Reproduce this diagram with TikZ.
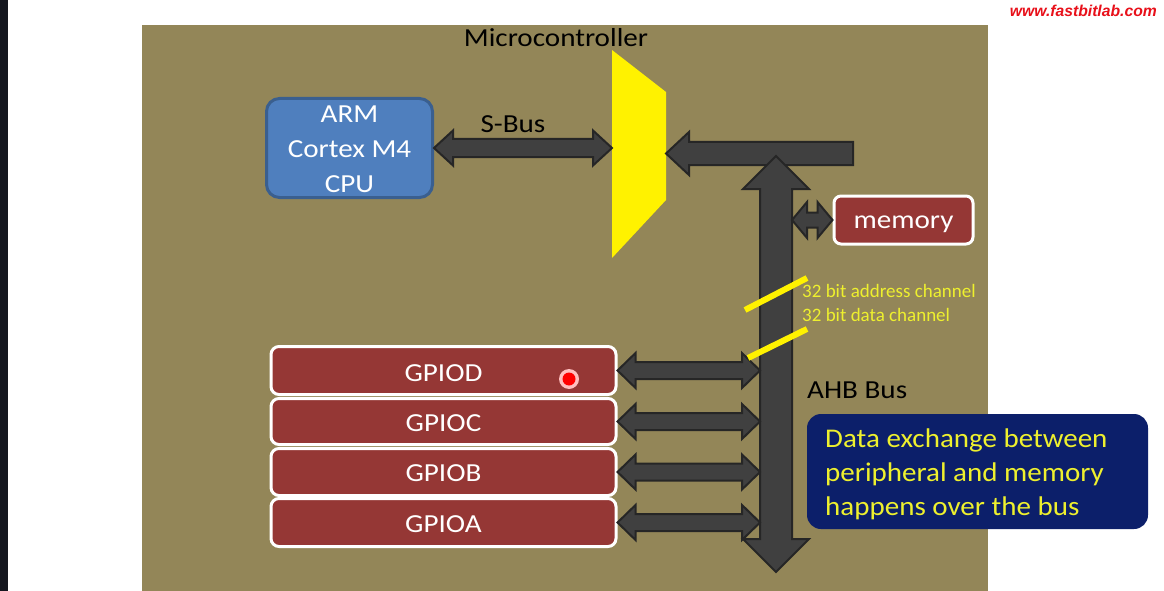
\documentclass[tikz,border=0pt]{standalone}
\usepackage{fontspec}
\setmainfont{Carlito}
\newfontfamily\widefont{Carlito}[FakeStretch=1.12]
\newfontfamily\notefont{Carlito}[FakeStretch=1.075]
\newfontfamily\urlfont{Liberation Sans}
\usetikzlibrary{calc}
\definecolor{olive}{HTML}{938658}
\definecolor{cpublue}{HTML}{4F7FBE}
\definecolor{cpuborder}{HTML}{3A5F8F}
\definecolor{memred}{HTML}{953735}
\definecolor{busgray}{HTML}{404040}
\definecolor{busedge}{HTML}{262626}
\definecolor{navy}{HTML}{0C1F6A}
\definecolor{txtyellow}{HTML}{EEF02E}
\definecolor{stripdark}{HTML}{15171F}
\definecolor{urlred}{HTML}{E8101A}
\tikzset{
  busarrow/.style={fill=busgray, draw=busedge, line width=2pt, line join=miter},
  cpubox/.style={draw=cpuborder, line width=3pt, fill=cpublue, rounded corners=13pt,
    minimum width=166pt, minimum height=99pt, inner sep=0pt, text=white, align=center,
    font=\widefont\fontsize{26}{35}\selectfont},
  redbox/.style={draw=white, line width=3pt, fill=memred, rounded corners=8pt,
    inner sep=0pt, text=white, text depth=0pt, font=\widefont\fontsize{26}{30}\selectfont},
  notebox/.style={fill=navy, rounded corners=14pt, inner sep=0pt,
    minimum width=341pt, minimum height=115pt},
  notetext/.style={inner sep=0pt, align=left, text=txtyellow,
    font=\notefont\fontsize{27}{34}\selectfont},
  label/.style={inner sep=0pt, font=\widefont\fontsize{26}{30}\selectfont},
  chanlabel/.style={inner sep=0pt, text=txtyellow, font=\fontsize{19}{23}\selectfont},
  chanmark/.style={draw=yellow, line width=6pt}
}
% horizontal double arrow: left tip, right tip, shaft half, head half, head length
\newcommand{\hdbl}[5]{%
  \draw[busarrow] let \p1=#1, \p2=#2 in
    (\x1,\y1) -- (\x1+#5,\y1+#4) -- (\x1+#5,\y1+#3) -- (\x2-#5,\y1+#3) -- (\x2-#5,\y1+#4)
    -- (\x2,\y1) -- (\x2-#5,\y1-#4) -- (\x2-#5,\y1-#3) -- (\x1+#5,\y1-#3) -- (\x1+#5,\y1-#4) -- cycle;}
% vertical double arrow: top tip, bottom tip, shaft half, head half, head length
\newcommand{\vdbl}[5]{%
  \draw[busarrow] let \p1=#1, \p2=#2 in
    (\x1,\y1) -- (\x1+#4,\y1-#5) -- (\x1+#3,\y1-#5) -- (\x1+#3,\y2+#5) -- (\x1+#4,\y2+#5)
    -- (\x1,\y2) -- (\x1-#4,\y2+#5) -- (\x1-#3,\y2+#5) -- (\x1-#3,\y1-#5) -- (\x1-#4,\y1-#5) -- cycle;}
\begin{document}
\begin{tikzpicture}[x=1pt,y=-1pt]
\path[use as bounding box] (0,0) rectangle (1164,591);
\fill[white] (0,0) rectangle (1164,591);
\fill[stripdark] (0,0) rectangle (8,591);
\fill[olive] (142,25) rectangle (988,591);

% title
\node[label, anchor=base] (title) at (556,47) {Microcontroller};
\node[inner sep=0pt, anchor=base east, text=urlred, font=\urlfont\bfseries\itshape\fontsize{15.7}{18}\selectfont] (url) at (1157,17) {www.fastbitlab.com};

% CPU
\node[cpubox] (cpu) at (349.5,148) {\rule{0pt}{20pt}ARM\\Cortex M4\\CPU};
\node[label, anchor=base] (sbus) at (513,132) {S-Bus};

% bus matrix (yellow)
\fill[yellow] (612,50) -- (666,92) -- (666,200) -- (612,258) -- cycle;
\coordinate (muxL) at (612,153);
\coordinate (muxR) at (666,153.5);
\coordinate (barEnd) at (853,153.5);

% S-Bus arrow
\hdbl{(cpu.east)}{(muxL)}{9pt}{17.5pt}{19pt}

% horizontal bar into the mux
\draw[busarrow] let \p1=(muxR), \p2=(barEnd) in
  (\x1,\y1) -- (\x1+23pt,\y1+21.5pt) -- (\x1+23pt,\y1+11.5pt) -- (\x2,\y1+11.5pt)
  -- (\x2,\y1-11.5pt) -- (\x1+23pt,\y1-11.5pt) -- (\x1+23pt,\y1-21.5pt) -- cycle;

% AHB bus
\coordinate (busTop) at (776,156);
\coordinate (busBot) at (776,572);
\coordinate (busL) at (760,0);
\coordinate (busR) at (792,0);
\vdbl{(busTop)}{(busBot)}{16pt}{33pt}{33pt}

% memory
\node[redbox, rounded corners=7pt, minimum width=139pt, minimum height=48pt,
  text height=16pt] (mem) at (903.5,220) {memory};
\hdbl{(busR |- mem.west)}{(mem.west)}{7.5pt}{18pt}{15pt}

% GPIOs
\node[redbox, minimum width=345pt, minimum height=48pt, text height=21pt] (gpiod) at (443.5,370.5) {GPIOD};
\node[redbox, minimum width=345pt, minimum height=46pt, text height=19pt] (gpioc) at (443.5,421.5) {GPIOC};
\node[redbox, minimum width=345pt, minimum height=47pt, text height=18pt] (gpiob) at (443.5,472) {GPIOB};
\node[redbox, minimum width=345pt, minimum height=48pt, text height=19pt] (gpioa) at (443.5,522.5) {GPIOA};
\foreach \g in {gpiod,gpioc,gpiob,gpioa}{
  \hdbl{(\g.east)}{(busL |- \g.east)}{8.5pt}{17.5pt}{18pt}
}

% pointer dot
\fill[white!75!red] (569,379) circle (10);
\fill[red] (569,379) circle (6.5);

% channel marks and labels
\draw[chanmark] (745,310) -- (807,278);
\draw[chanmark] (748,358) -- (807,329);
\node[chanlabel, anchor=base west] (addr) at (802,297) {32 bit address channel};
\node[chanlabel, anchor=base west] (data) at (802,321) {32 bit data channel};

\node[label, anchor=base west] (ahb) at (807,398) {AHB Bus};

% note
\node[notebox] (note) at (977.5,471.5) {};
\node[notetext, anchor=base west] (notetxt) at (825,515) {Data exchange between\\peripheral and memory\\happens over the bus};
\end{tikzpicture}
\end{document}
